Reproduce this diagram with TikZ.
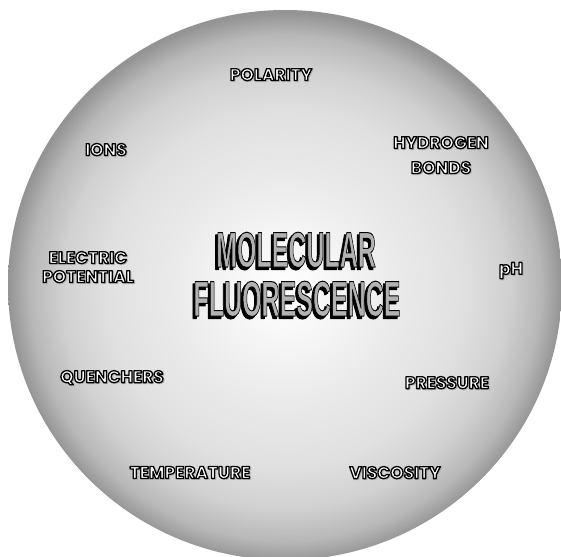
\documentclass[tikz,border=0pt]{standalone}
\usepackage{fontspec}
\newfontfamily\lblfont{Poppins}
\newfontfamily\ttlfont{Liberation Sans}
\pgfdeclareradialshading{bgshade}{\pgfpoint{0bp}{-0.5bp}}{color(0bp)=(white); color(4bp)=(white!97!black); color(10bp)=(white!92!black); color(16bp)=(white!88!black); color(20bp)=(white!82!black); color(23bp)=(white!72!black); color(25bp)=(white!58!black); color(50bp)=(white!58!black)}
% outlined text: #1 stroke width, #2 fill colour, #3 stroke grey level, #4 text
\newcommand{\strk}[4]{{\color{#2}\special{pdf:literal direct 2 Tr #1 w 1 j #3 G}#4\special{pdf:literal direct 0 Tr}}}
\newcommand{\lbl}[1]{\makebox[0pt][l]{\hspace{1pt}\raisebox{-0.8pt}{\strk{1.3}{black!30}{0.7}{#1}}}\strk{1.3}{white}{0}{#1}}
\newcommand{\ttl}[1]{\scalebox{0.5}[1]{\makebox[0pt][l]{\hspace{-4.5pt}\raisebox{-2.3pt}{\strk{1.4}{black}{0}{#1}}}\strk{1.0}{black!30}{0}{#1}}}
\tikzset{
  lab/.style={font=\lblfont\bfseries\fontsize{17}{19}\selectfont, inner sep=0pt, align=center},
  title/.style={font=\ttlfont\bfseries\fontsize{50}{52}\selectfont, inner sep=0pt}
}
\begin{document}
\begin{tikzpicture}[x=1pt,y=-1pt]
\useasboundingbox (0,0) rectangle (561,556);
\fill[white] (0,0) rectangle (561,556);
\shade[shading=bgshade] (285,285) ellipse [x radius=277pt, y radius=275pt];
\node[title] (mol) at (296,251) {\ttl{MOLECULAR}};
\node[title] (flu) at (297,300) {\ttl{FLUORESCENCE}};
\node[lab] (pol) at (271,75) {\lbl{POLARITY}};
\node[lab] (hyd) at (441,143) {\lbl{HYDROGEN}};
\node[lab] (bon) at (441,168) {\lbl{BONDS}};
\node[lab] (ion) at (106,150) {\lbl{IONS}};
\node[lab] (ele) at (88,258) {\lbl{ELECTRIC}};
\node[lab] (pot) at (88,277) {\lbl{POTENTIAL}};
\node[lab] (ph) at (511,271) {\lbl{pH}};
\node[lab] (que) at (112,378) {\lbl{QUENCHERS}};
\node[lab] (pre) at (447,383) {\lbl{PRESSURE}};
\node[lab] (tem) at (190,473) {\lbl{TEMPERATURE}};
\node[lab] (vis) at (395,473) {\lbl{VISCOSITY}};
\end{tikzpicture}
\end{document}
